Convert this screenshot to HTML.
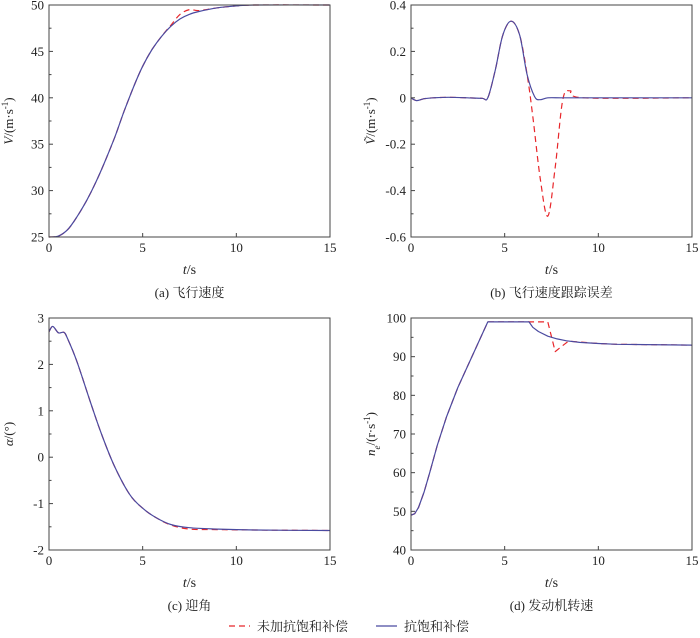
<!DOCTYPE html>
<html><head><meta charset="utf-8"><style>
body{margin:0;background:#fff;width:700px;height:633px;overflow:hidden}
svg{font-family:"Liberation Serif","Noto Serif CJK SC",serif}
</style></head><body>
<svg id="c" width="700" height="633"></svg>
<script>
const tA=[0,0.5,1,1.5,2,2.5,3,3.5,4,4.5,5,5.5,6,6.5,7,7.5,8,9,10,11,15];
const vBlue=[25,25.1,25.8,27.2,28.9,30.9,33.2,35.7,38.5,41.1,43.4,45.2,46.6,47.7,48.5,49,49.3,49.7,49.9,50,50];
const vRed=[25,25.1,25.8,27.2,28.9,30.9,33.2,35.7,38.5,41.1,43.4,45.2,46.6,47.8,49,49.5,49.4,49.7,49.9,50,50];
const tB=[0,0.3,0.7,1.2,2,3,3.8,4.1,4.5,4.9,5.35,5.8,6.2,6.6,6.9,7.3,8,9,15];
const eBlue=[0,-0.012,-0.004,0,0.002,0,-0.002,0,0.12,0.27,0.33,0.27,0.1,0.005,-0.008,0,0,0,0];
const tBr=[0,0.3,0.7,1.2,2,3,3.8,4.1,4.5,4.9,5.35,5.8,6.2,6.5,6.9,7.3,7.7,8.1,8.5,9.2,15];
const eRed=[0,-0.012,-0.004,0,0.002,0,-0.002,0,0.12,0.27,0.33,0.27,0.1,-0.08,-0.35,-0.51,-0.3,-0.01,0.03,0,0];
const tC=[0,0.2,0.5,0.8,1,1.5,2.2,2.8,3.5,4.3,5,5.7,6.5,7.5,9,11,15];
const aBlue=[2.7,2.82,2.68,2.69,2.55,2.05,1.2,0.5,-0.2,-0.8,-1.1,-1.3,-1.45,-1.52,-1.55,-1.57,-1.58];
const aRed=[2.7,2.82,2.68,2.69,2.55,2.05,1.2,0.5,-0.2,-0.8,-1.1,-1.3,-1.46,-1.55,-1.56,-1.57,-1.58];
const tD=[0,0.2,0.4,0.7,1.0,1.4,1.9,2.5,3.3,4.1,6.3,6.5,6.8,7.3,7.8,8.3,9,10,11,15];
const nBlue=[49,49.4,51,55,60,67,74.5,82,90.5,99,99,97.6,96.5,95.3,94.6,94.1,93.7,93.4,93.2,93];
const tDr=[0,0.2,0.4,0.7,1.0,1.4,1.9,2.5,3.3,4.1,7.3,7.7,8.0,8.4,9,10,11,15];
const nRed=[49,49.4,51,55,60,67,74.5,82,90.5,99,99,91.3,92.5,94,93.8,93.4,93.2,93];
const xTicks=[0,5,10,15];
const NS="http://www.w3.org/2000/svg",svg=document.getElementById('c');
function mk(t,a,p){const e=document.createElementNS(NS,t);for(const k in a)e.setAttribute(k,a[k]);(p||svg).appendChild(e);return e;}
function smooth(P){let d='M'+P[0][0].toFixed(1)+','+P[0][1].toFixed(1);
 for(let i=0;i<P.length-1;i++){const p0=P[Math.max(0,i-1)],p1=P[i],p2=P[i+1],p3=P[Math.min(P.length-1,i+2)];
  const k=1/6;const c1=[p1[0]+(p2[0]-p0[0])*k,p1[1]+(p2[1]-p0[1])*k],c2=[p2[0]-(p3[0]-p1[0])*k,p2[1]-(p3[1]-p1[1])*k];
  d+='C'+c1.map(v=>v.toFixed(1))+' '+c2.map(v=>v.toFixed(1))+' '+p2[0].toFixed(1)+','+p2[1].toFixed(1);}
 return d;}
function linear(P){return P.map((p,i)=>(i?'L':'M')+p[0].toFixed(1)+','+p[1].toFixed(1)).join('');}
function panel(name,L,T,R,B,ymin,ymax,yt,ylab,cap,series,lin){
 const g=mk('g',{});
 
 
 const sx=v=>L+(v/15)*(R-L), sy=v=>B-(v-ymin)/(ymax-ymin)*(B-T);
 for(const s of series){
  const pts=s.t.map((t,i)=>[sx(t),sy(s.v[i])]);
  const p=mk('path',{d:lin?linear(pts):smooth(pts),fill:'none',stroke:s.c,'stroke-width':1.2,'stroke-dasharray':s.d||'none','stroke-linejoin':'round'},g);
  
  
 }
 const fr=mk('rect',{x:L,y:T,width:R-L,height:B-T,fill:'none',stroke:'#444','stroke-width':1},g);
 
 
 for(const x of xTicks){mk('line',{x1:sx(x),x2:sx(x),y1:B,y2:B-4,stroke:'#444'},g);
  const t=mk('text',{x:sx(x),y:B+15,'text-anchor':'middle','font-size':13,fill:'#222'},g);t.textContent=x;
  
  }
 for(let i=0;i<yt.length;i++){const y=yt[i];mk('line',{x1:L,x2:L+4,y1:sy(y),y2:sy(y),stroke:'#444'},g);
  if(i<yt.length-1){const m=(y+yt[i+1])/2;mk('line',{x1:L,x2:L+2.5,y1:sy(m),y2:sy(m),stroke:'#444'},g);}
  const t=mk('text',{x:L-5,y:sy(y)+4.5,'text-anchor':'end','font-size':13,fill:'#222'},g);t.textContent=y;
  
  }
 const xt=mk('text',{x:(L+R)/2,y:B+37,'text-anchor':'middle','font-size':14,fill:'#222'},g);
 xt.innerHTML='<tspan font-style="italic">t</tspan>/s';
 
 
 const yl=mk('text',{x:0,y:0,transform:`translate(${L-36},${(T+B)/2}) rotate(-90)`,'text-anchor':'middle','font-size':13,fill:'#222'},g);
 yl.innerHTML=ylab;
 
 
 const c=mk('text',{x:(L+R)/2,y:B+60,'text-anchor':'middle','font-size':13,fill:'#222'},g);c.textContent=cap;
 
 
}
const R='#e8262a',Bl='#4a4aa0';
panel('panel-a',49,5,330,237,25,50,[25,30,35,40,45,50],'<tspan font-style="italic">V</tspan>/(m·s<tspan baseline-shift="super" font-size="9">-1</tspan>)','(a) 飞行速度',
 [{t:tA,v:vRed,c:R,d:'6,4',n:'series-red'},{t:tA,v:vBlue,c:Bl,n:'series-blue'}]);
panel('panel-b',411,5,692,237,-0.6,0.4,[-0.6,-0.4,-0.2,0,0.2,0.4],'<tspan font-style="italic">Ṽ</tspan>/(m·s<tspan baseline-shift="super" font-size="9">-1</tspan>)','(b) 飞行速度跟踪误差',
 [{t:tBr,v:eRed,c:R,d:'6,4',n:'series-red'},{t:tB,v:eBlue,c:Bl,n:'series-blue'}]);
panel('panel-c',49,318,330,550,-2,3,[-2,-1,0,1,2,3],'<tspan font-style="italic">α</tspan>/(°)','(c) 迎角',
 [{t:tC,v:aRed,c:R,d:'6,4',n:'series-red'},{t:tC,v:aBlue,c:Bl,n:'series-blue'}]);
panel('panel-d',411,318,692,550,40,100,[40,50,60,70,80,90,100],'<tspan font-style="italic">n</tspan><tspan baseline-shift="sub" font-size="9" font-style="italic">e</tspan>/(r·s<tspan baseline-shift="super" font-size="9">-1</tspan>)','(d) 发动机转速',
 [{t:tDr,v:nRed,c:R,d:'6,4',n:'series-red'},{t:tD,v:nBlue,c:Bl,n:'series-blue'}],true);
</script>
<svg style="position:absolute;left:0;top:0" width="700" height="633">
 <g font-family="Liberation Serif,Noto Serif CJK SC,serif" font-size="13" fill="#222">
  <line x1="229" y1="626" x2="250" y2="626" stroke="#e8262a" stroke-width="1.2" stroke-dasharray="6,4"/>
  <text x="257" y="631">未加抗饱和补偿</text>
  <line x1="376" y1="626" x2="397" y2="626" stroke="#4a4aa0" stroke-width="1.2"/>
  <text x="404" y="631">抗饱和补偿</text>
 </g>
</svg>
</body></html>
